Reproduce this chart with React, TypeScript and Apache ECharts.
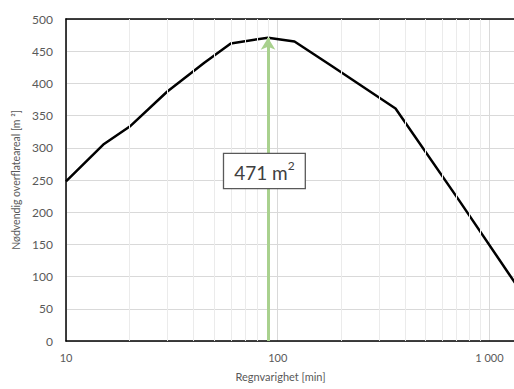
import React, { useEffect, useRef } from "react";
import * as echarts from "echarts";

const durations = [10, 15, 20, 30, 45, 60, 90, 120, 180, 360, 720, 1440];
const areas = [248, 305, 333, 387, 432, 462, 471, 465, 427, 361, 218, 72];
const peakDuration = 90;
const peakArea = 471;
const minorGridValues = [20, 30, 40, 50, 60, 70, 80, 90, 200, 300, 400, 500, 600, 700, 800, 900];
const yTicks = { min: 0, max: 500, interval: 50 };
const xTitle = "Regnvarighet [min]";
const yTitle = "Nødvendig overflateareal [m ²]";

const FONT = "Lato";

export default function App() {
  const ref = useRef<HTMLDivElement>(null);
  useEffect(() => {
    if (!ref.current) return;
    const chart = echarts.init(ref.current, undefined, { renderer: "svg" });
    chart.setOption({
      animation: false,
      backgroundColor: "#ffffff",
      textStyle: { fontFamily: FONT },
      grid: {
        left: 66,
        top: 19,
        bottom: 48,
        right: 0,
        show: false,
        containLabel: false,
      },
      xAxis: [
        {
          type: "log",
          logBase: 10,
          min: 10,
          max: 1440,
          name: xTitle,
          nameLocation: "middle",
          nameGap: 30,
          nameTextStyle: { color: "#595959", fontSize: 11, fontFamily: FONT, padding: [0, 28, 0, 0] },
          axisLine: { show: true, lineStyle: { color: "#000000", width: 1.5 } },
          axisTick: { show: false },
          axisLabel: {
            color: "#595959",
            fontSize: 11,
            fontFamily: FONT,
            margin: 11,
            formatter: (v: number) => {
              const l = Math.log10(v);
              if (Math.abs(l - Math.round(l)) > 1e-6) return "";
              const r = Math.round(v);
              return r >= 1000 ? String(r).replace(/\B(?=(\d{3})+(?!\d))/g, " ") : String(r);
            },
          },
          splitLine: { show: true, lineStyle: { color: "#d9d9d9", width: 1 } },
        },
        {
          type: "log",
          logBase: 10,
          min: 10,
          max: 1440,
          position: "top",
          axisLine: { show: true, lineStyle: { color: "#000000", width: 1.5 } },
          axisTick: { show: false },
          axisLabel: { show: false },
          splitLine: { show: false },
        },
      ],
      yAxis: {
        type: "value",
        min: yTicks.min,
        max: yTicks.max,
        interval: yTicks.interval,
        name: yTitle,
        nameLocation: "middle",
        nameGap: 42,
        nameRotate: 90,
        nameTextStyle: { color: "#595959", fontSize: 10.5, fontFamily: FONT },
        axisLine: { show: true, lineStyle: { color: "#000000", width: 1.5 } },
        axisTick: { show: false },
        axisLabel: { color: "#595959", fontSize: 12, fontFamily: FONT, margin: 13 },
        splitLine: { show: true, lineStyle: { color: "#d9d9d9", width: 1 } },
      },
      series: [
        {
          type: "line",
          data: [],
          silent: true,
          z: 1,
          markLine: {
            silent: true,
            symbol: ["none", "none"],
            label: { show: false },
            lineStyle: { color: "#ebebeb", width: 1, type: "solid" },
            data: minorGridValues.map((v) => ({ xAxis: v })),
          },
        },
        {
          type: "line",
          data: durations.map((d, i) => [d, areas[i]]),
          symbol: "none",
          z: 3,
          lineStyle: { color: "#000000", width: 2.5 },
          itemStyle: { color: "#000000" },
        },
        {
          type: "line",
          data: [],
          z: 4,
          markLine: {
            silent: true,
            symbol: ["none", "arrow"],
            symbolSize: [11, 12],
            label: { show: false },
            lineStyle: { color: "#a9d18e", width: 3, type: "solid" },
            data: [[{ coord: [peakDuration, 0] }, { coord: [peakDuration, peakArea] }]],
          },
          markPoint: {
            silent: true,
            symbol: "circle",
            symbolSize: 0,
            data: [{ coord: [86.5, 264], value: peakArea }],
            label: {
              show: true,
              position: "inside",
              formatter: (p: any) => `{a|${p.value} m}{s|2}`,
              backgroundColor: "#ffffff",
              borderColor: "#595959",
              borderWidth: 1.3,
              padding: [6, 10, 6, 10],
              rich: {
                a: { fontSize: 19, color: "#404040", fontFamily: FONT, verticalAlign: "bottom", lineHeight: 22 },
                s: { fontSize: 12, color: "#404040", fontFamily: FONT, verticalAlign: "top", lineHeight: 22, padding: [0, 0, 8, 0] },
              },
            },
          },
        },
      ],
    });
    return () => chart.dispose();
  }, []);
  return <div ref={ref} style={{ position: "fixed", left: 0, top: 0, width: 526, height: 389 }} />;
}
